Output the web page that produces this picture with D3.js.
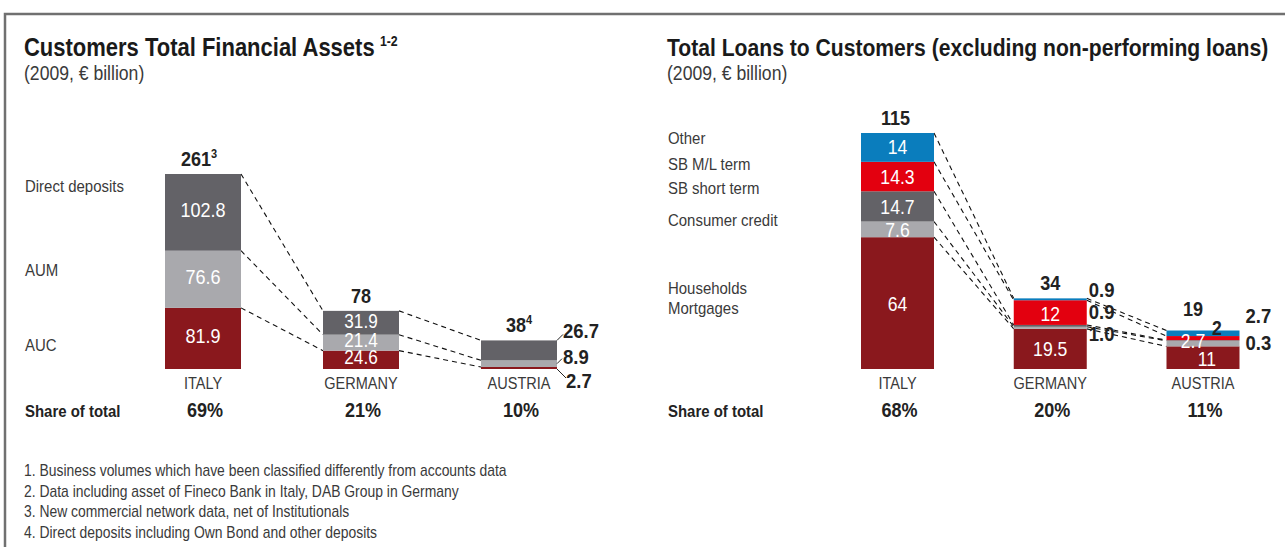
<!DOCTYPE html>
<html><head><meta charset="utf-8">
<script src="https://cdn.jsdelivr.net/npm/d3@7"></script>
<style>
body{margin:0;background:#fff;}
svg text{font-family:"Liberation Sans",Arial,Helvetica,sans-serif;}
</style></head><body><svg id="c" width="1285" height="547"></svg>
<script>
const countries = ["ITALY", "GERMANY", "AUSTRIA"];

// Customers total financial assets (2009, € billion), stacked bottom → top
const assetSeries = ["AUC", "AUM", "Direct deposits"];
const assetAUC = [81.9, 24.6, 2.7];
const assetAUM = [76.6, 21.4, 8.9];
const assetDirect = [102.8, 31.9, 26.7];
const assetTotals = ["261", "78", "38"];
const assetTotalNotes = ["3", "", "4"];
const assetShare = ["69%", "21%", "10%"];

// Total loans to customers (2009, € billion), stacked bottom → top
const loanSeries = ["Mortgages", "Consumer credit", "SB short term", "SB M/L term", "Other"];
const loanMortgages = [64, 19.5, 11];
const loanConsumer = [7.6, 1.0, 2.7];
const loanSBShort = [14.7, 0.9, 0.3];
const loanSBML = [14.3, 12, 2];
const loanOther = [14, 0.9, 2.7];
const loanTotals = ["115", "34", "19"];
const loanShare = ["68%", "20%", "11%"];

const footnotes = [
  "1. Business volumes which have been classified differently from accounts data",
  "2. Data including asset of Fineco Bank in Italy, DAB Group in Germany",
  "3. New commercial network data, net of Institutionals",
  "4. Direct deposits including Own Bond and other deposits"
];

const C = {
  darkRed: "#8a181d", lightGray: "#a9a9ad", darkGray: "#636267",
  red: "#e3000f", blue: "#0a7dbd", text: "#222", soft: "#3a3a3a"
};
// horizontal squeeze giving the narrow, condensed lettering
const CONDENSE = 0.88;

const svg = d3.select("#c");

// outer frame
svg.append("path")
  .attr("d", "M5,547 V14 H1285")
  .attr("fill", "none").attr("stroke", "#707070").attr("stroke-width", 2.5);

function drawPanel(p) {
  const g = svg.append("g");
  const rows = countries.map((c, i) => {
    const r = { country: c };
    p.series.forEach((s, k) => r[s] = p.values[k][i]);
    return r;
  });
  const stacked = d3.stack().keys(p.series)(rows);
  const x = d3.scalePoint().domain(countries).range(p.xRange);
  const y = d3.scaleLinear().domain([0, p.yMax]).range([p.base, p.top]);
  const w = p.barWidth;

  // title
  const t = g.append("text").attr("x", p.titleX).attr("y", 56)
    .attr("font-size", p.titleSize).attr("font-weight", "bold").attr("fill", "#1a1a1a")
    .text(p.title);
  if (p.titleNote) t.append("tspan").attr("font-size", 14).attr("dy", -10).attr("dx", 6).text(p.titleNote);
  g.append("text").attr("x", p.titleX).attr("y", 80).attr("font-size", 20)
    .attr("fill", C.soft).text("(2009, € billion)");

  // dashed connectors between neighbouring bars at each segment top
  stacked.forEach(layer => {
    for (let i = 0; i < countries.length - 1; i++) {
      g.append("line")
        .attr("x1", x(countries[i]) + w / 2).attr("y1", y(layer[i][1]))
        .attr("x2", x(countries[i + 1]) - w / 2).attr("y2", y(layer[i + 1][1]))
        .attr("stroke", "#111").attr("stroke-width", 1.1)
        .attr("stroke-dasharray", "5,4");
    }
  });

  // bars
  stacked.forEach((layer, k) => {
    g.selectAll(null).data(layer).join("rect")
      .attr("x", d => x(d.data.country) - w / 2)
      .attr("y", d => y(d[1]))
      .attr("width", w)
      .attr("height", d => y(d[0]) - y(d[1]))
      .attr("fill", p.colors[k]);
  });

  // value labels
  stacked.forEach((layer, k) => {
    layer.forEach((d, i) => {
      const key = countries[i] + "|" + p.series[k];
      const o = p.labelRules[key] || {};
      const v = p.values[k][i];
      const mid = (y(d[0]) + y(d[1])) / 2;
      const cx = x(countries[i]);
      const size = o.size || p.valueSize;
      if (o.side) {
        const lx = cx + w / 2 + (o.dx || 6);
        const ly = mid + (o.dy || 0);
        if (o.leader) {
          const [at, bx, by] = o.leader;
          const yy = y(at === "top" ? d[1] : at === "bot" ? d[0] : (d[0] + d[1]) / 2);
          g.append("line")
            .attr("x1", cx + w / 2).attr("y1", yy)
            .attr("x2", cx + w / 2 + bx).attr("y2", yy + by)
            .attr("stroke", "#222").attr("stroke-width", 1);
        }
        g.append("text").attr("x", lx).attr("y", ly).attr("dy", "0.36em")
          .attr("font-size", o.size || p.sideSize).attr("font-weight", "bold")
          .attr("fill", C.text).text(v.toFixed(1));
      } else {
        g.append("text")
          .attr("x", cx + (o.dx || 0)).attr("y", mid + (o.dy || 0)).attr("dy", "0.36em")
          .attr("text-anchor", "middle")
          .attr("font-size", size)
          .attr("font-weight", o.dark ? "bold" : "normal")
          .attr("fill", o.dark ? C.text : "#fff")
          .text(Number.isInteger(v) ? v : v.toFixed(1));
      }
    });
  });

  // totals above bars
  countries.forEach((c, i) => {
    const top = d3.max(stacked, l => l[i][1]);
    const tt = g.append("text").attr("x", x(c) + (p.totalDx[i] || 0))
      .attr("y", y(top) - 8 + (p.totalDy[i] || 0))
      .attr("text-anchor", "middle").attr("font-size", 20.5).attr("font-weight", "bold")
      .attr("fill", C.text).text(p.totals[i]);
    if (p.totalNotes && p.totalNotes[i])
      tt.append("tspan").attr("font-size", 12.5).attr("dy", -8).text(p.totalNotes[i]);
  });

  // category labels and shares
  g.selectAll(null).data(countries).join("text")
    .attr("x", d => x(d)).attr("y", p.base + 20)
    .attr("text-anchor", "middle").attr("font-size", 16.5).attr("fill", "#3a3a3a")
    .text(d => d);
  g.selectAll(null).data(p.share).join("text")
    .attr("x", (d, i) => x(countries[i]) + 2).attr("y", p.base + 48)
    .attr("text-anchor", "middle").attr("font-size", 20.5).attr("font-weight", "bold")
    .attr("fill", C.text).text(d => d);
  g.append("text").attr("x", p.titleX + 1).attr("y", p.base + 48)
    .attr("font-size", 17).attr("font-weight", "bold").attr("fill", C.text)
    .text("Share of total");

  // series names on the left
  p.legend.forEach(l => {
    const tx = g.append("text").attr("x", p.titleX + 1).attr("y", l.y)
      .attr("font-size", 17).attr("fill", C.soft);
    l.lines.forEach((s, j) => tx.append("tspan").attr("x", p.titleX + 1).attr("dy", j ? 20 : 0).text(s));
  });
}

drawPanel({
  title: "Customers Total Financial Assets", titleNote: "1-2", titleX: 24, titleSize: 25,
  series: assetSeries, values: [assetAUC, assetAUM, assetDirect],
  colors: [C.darkRed, C.lightGray, C.darkGray],
  xRange: [203, 519], barWidth: 76, base: 369, top: 174, yMax: 261.3,
  valueSize: 20.5, sideSize: 21, totals: assetTotals, totalNotes: assetTotalNotes,
  totalDx: [-4, 0, 0], totalDy: [0, 0, 0],
  share: assetShare,
  legend: [
    { y: 192, lines: ["Direct deposits"] },
    { y: 276, lines: ["AUM"] },
    { y: 351, lines: ["AUC"] }
  ],
  labelRules: {
    "ITALY|Direct deposits": { dy: -3 },
    "ITALY|AUM": { dy: -3 },
    "ITALY|AUC": { dy: -3 },
    "GERMANY|Direct deposits": { dy: -2, size: 19.5 },
    "GERMANY|AUM": { dy: -3, size: 19.5 },
    "GERMANY|AUC": { dy: -3, size: 19.5 },
    "AUSTRIA|Direct deposits": { side: true, dx: 6, dy: -20, leader: ["top", 6, -6] },
    "AUSTRIA|AUM": { side: true, dx: 6, dy: -7, leader: ["mid", 5, -5] },
    "AUSTRIA|AUC": { side: true, dx: 9, dy: 12, leader: ["bot", 9, 9] }
  }
});

drawPanel({
  title: "Total Loans to Customers (excluding non-performing loans)", titleX: 667, titleSize: 24,
  series: loanSeries, values: [loanMortgages, loanConsumer, loanSBShort, loanSBML, loanOther],
  colors: [C.darkRed, C.lightGray, C.darkGray, C.red, C.blue],
  xRange: [897.5, 1203], barWidth: 73, base: 369, top: 133, yMax: 114.6,
  valueSize: 20, sideSize: 21, totals: loanTotals,
  totalDx: [-2, 0, -10], totalDy: [0, 0, -6],
  share: loanShare,
  legend: [
    { y: 144, lines: ["Other"] },
    { y: 170, lines: ["SB M/L term"] },
    { y: 194, lines: ["SB short term"] },
    { y: 226, lines: ["Consumer credit"] },
    { y: 294, lines: ["Households", "Mortgages"] }
  ],
  labelRules: {
    "ITALY|Other": { dy: -1 },
    "ITALY|Mortgages": { dy: 1 },
    "GERMANY|Other": { side: true, dx: 2, dy: -10 },
    "GERMANY|SB short term": { side: true, dx: 2, dy: -14 },
    "GERMANY|Consumer credit": { side: true, dx: 2, dy: 6 },
    "GERMANY|SB M/L term": { dy: 1 },
    "AUSTRIA|Other": { side: true, dx: 6, dy: -18 },
    "AUSTRIA|SB M/L term": { dark: true, dx: 14, dy: -10 },
    "AUSTRIA|SB short term": { side: true, dx: 6, dy: 2 },
    "AUSTRIA|Consumer credit": { dx: -10, dy: -3 },
    "AUSTRIA|Mortgages": { dx: 4, dy: 1 }
  }
});

// footnotes
svg.append("g").selectAll("text").data(footnotes).join("text")
  .attr("x", 24).attr("y", (d, i) => 476 + i * 20.7)
  .attr("font-size", 15.8).attr("fill", C.soft).text(d => d);

// squeeze every text horizontally about its anchor x
svg.selectAll("text").each(function () {
  const ax = +this.getAttribute("x");
  this.setAttribute("transform", `translate(${ax},0) scale(${CONDENSE},1) translate(${-ax},0)`);
});
</script></body></html>
